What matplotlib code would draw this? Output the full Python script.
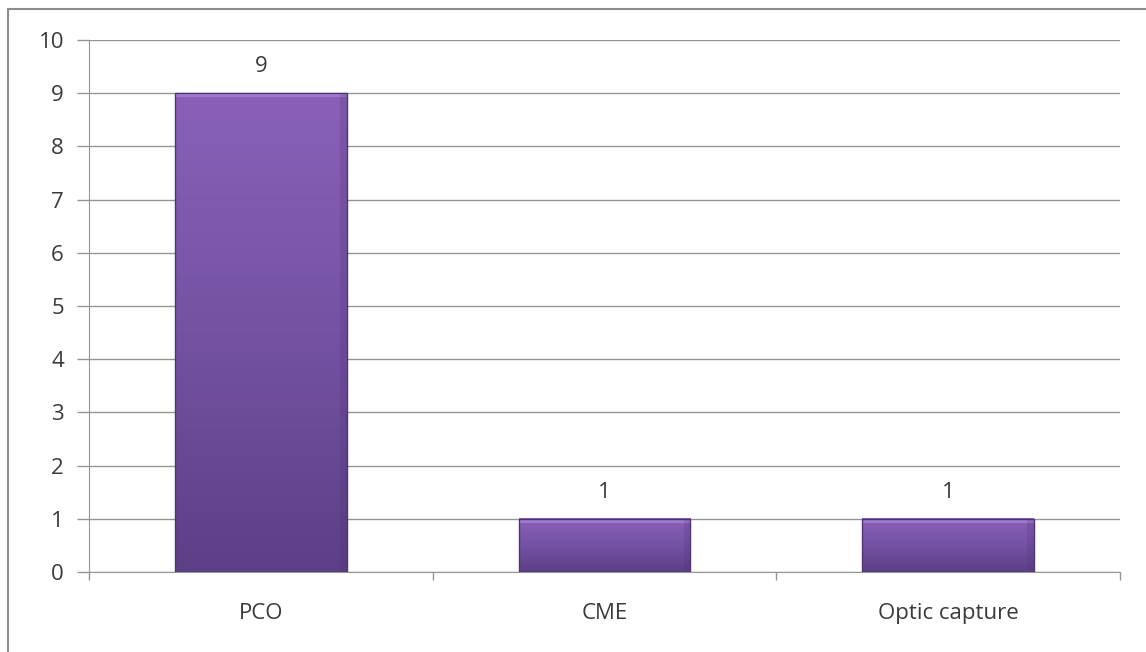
import matplotlib
matplotlib.use("Agg")
import matplotlib.pyplot as plt
import numpy as np
from matplotlib.patches import Rectangle
from matplotlib.colors import LinearSegmentedColormap

categories = ["PCO", "CME", "Optic capture"]
values = [9, 1, 1]
yticks = [0, 1, 2, 3, 4, 5, 6, 7, 8, 9, 10]

plt.rcParams['font.family'] = ['Open Sans', 'DejaVu Sans']

fig = plt.figure(figsize=(11.46, 6.52), dpi=100)
fig.patch.set_facecolor("white")
# outer chart frame
fig.patches.append(Rectangle((8/1146, -0.05), 1.2, 1 - 9/652 + 0.05,
                             transform=fig.transFigure, fill=False,
                             edgecolor="#8c8c8c", linewidth=1.5))

ax = fig.add_axes([89/1146, 1 - 572/652, 1031/1146, 532/652])
ax.set_xlim(-0.5, len(categories) - 0.5)
ax.set_ylim(0, 10)

txtc = "#3a3a3a"
fs = 16
ax.set_yticks(yticks)
ax.set_yticklabels([str(t) for t in yticks], fontsize=fs, color=txtc)
ax.yaxis.grid(True, color="#959595", linewidth=1)
ax.set_axisbelow(True)
ax.tick_params(axis="y", length=9, width=1, color="#959595", pad=9)

ax.set_xticks(np.arange(-0.5, len(categories), 1.0))
ax.set_xticklabels([])
ax.set_xticks(np.arange(len(categories)), minor=True)
ax.set_xticklabels(categories, minor=True, fontsize=fs, color=txtc)
ax.tick_params(axis="x", which="major", length=6, width=1, color="#959595", direction="out")
ax.tick_params(axis="x", which="minor", length=0, pad=22)

for s in ["top", "right"]:
    ax.spines[s].set_visible(False)
ax.spines["left"].set_color("#959595")
ax.spines["bottom"].set_color("#959595")

cmap = LinearSegmentedColormap.from_list("purp", ["#5c3f86", "#7552a4", "#8a60b8"])
width = 0.5
grad = np.linspace(0, 1, 256).reshape(-1, 1)
for i, v in enumerate(values):
    x0, x1 = i - width / 2, i + width / 2
    ax.imshow(grad, extent=[x0, x1, 0, v], origin="lower", cmap=cmap,
              aspect="auto", zorder=3, interpolation="bicubic")
    # top highlight
    ax.add_patch(Rectangle((x0, v - 0.08), width, 0.08, facecolor="#a888d6",
                           edgecolor="none", zorder=4, alpha=0.7))
    # side shading
    ax.add_patch(Rectangle((x1 - 0.02, 0), 0.02, v, facecolor="#4b3170",
                           edgecolor="none", zorder=4, alpha=0.2))
    ax.add_patch(Rectangle((x0, 0), width, v, facecolor="none",
                           edgecolor="#4f3575", linewidth=1, zorder=5))
    ax.text(i, v + 0.3, str(v), ha="center", va="bottom", fontsize=fs,
            color=txtc, zorder=6)

ax.set_xlim(-0.5, len(categories) - 0.5)
ax.set_ylim(0, 10)

fig.savefig("out.png", dpi=100)
